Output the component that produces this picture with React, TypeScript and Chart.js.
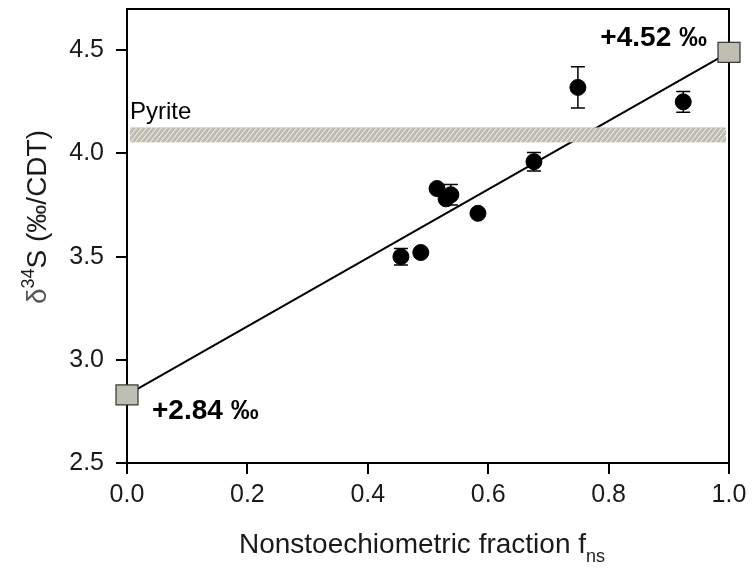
import React, { useEffect, useRef } from "react";
import { Chart, registerables } from "chart.js";

Chart.register(...registerables);

// Samples: nonstoechiometric fraction vs δ34S
const fraction = [0.455, 0.488, 0.515, 0.53, 0.538, 0.583, 0.676, 0.749, 0.924];
const delta34S = [3.5, 3.52, 3.83, 3.78, 3.8, 3.71, 3.96, 4.32, 4.25];
const delta34SErr = [0.04, 0.0, 0.0, 0.0, 0.05, 0.0, 0.045, 0.1, 0.05];

// End-members and mixing line
const endmemberX = [0, 1];
const endmemberY = [2.83, 4.49];
const endmemberLabels = ["+2.84 ‰", "+4.52 ‰"];

// Pyrite reference band
const pyriteBand = [4.054, 4.126];
const pyriteLabel = "Pyrite";

const xTicks = [0, 0.2, 0.4, 0.6, 0.8, 1.0];
const yTicks = [2.5, 3.0, 3.5, 4.0, 4.5];

const FONT = "'Liberation Sans', Arial, sans-serif";

const overlayPlugin = {
  id: "overlay",
  beforeDatasetsDraw(chart: any) {
    const { ctx } = chart;
    const x = chart.scales.x;
    const y = chart.scales.y;
    // error bars
    ctx.save();
    ctx.strokeStyle = "#000";
    ctx.lineWidth = 1.5;
    for (let i = 0; i < fraction.length; i++) {
      const e = delta34SErr[i];
      if (!e) continue;
      const px = x.getPixelForValue(fraction[i]);
      const y1 = y.getPixelForValue(delta34S[i] + e);
      const y2 = y.getPixelForValue(delta34S[i] - e);
      ctx.beginPath();
      ctx.moveTo(px, y1);
      ctx.lineTo(px, y2);
      ctx.moveTo(px - 7, y1);
      ctx.lineTo(px + 7, y1);
      ctx.moveTo(px - 7, y2);
      ctx.lineTo(px + 7, y2);
      ctx.stroke();
    }
    ctx.restore();
  },
  afterDatasetsDraw(chart: any) {
    const { ctx, chartArea } = chart;
    const y = chart.scales.y;
    const x = chart.scales.x;
    // pyrite band
    const top = y.getPixelForValue(pyriteBand[1]);
    const bot = y.getPixelForValue(pyriteBand[0]);
    const left = chartArea.left + 3;
    const right = chartArea.right - 3;
    ctx.save();
    ctx.fillStyle = "#bebdb2";
    ctx.fillRect(left, top, right - left, bot - top);
    ctx.beginPath();
    ctx.rect(left, top, right - left, bot - top);
    ctx.clip();
    ctx.strokeStyle = "rgba(255,255,255,0.85)";
    ctx.lineWidth = 1;
    const h = bot - top;
    for (let sx = left - h; sx < right + h; sx += 5) {
      ctx.beginPath();
      ctx.moveTo(sx, bot);
      ctx.lineTo(sx + h * 0.8, top);
      ctx.stroke();
    }
    ctx.restore();

    // frame top and right
    ctx.save();
    ctx.strokeStyle = "#000";
    ctx.lineWidth = 2;
    ctx.beginPath();
    ctx.moveTo(chartArea.left, chartArea.top);
    ctx.lineTo(chartArea.right, chartArea.top);
    ctx.lineTo(chartArea.right, chartArea.bottom);
    ctx.stroke();
    ctx.restore();

    // end-member squares
    ctx.save();
    for (let i = 0; i < endmemberX.length; i++) {
      const px = x.getPixelForValue(endmemberX[i]);
      const py = y.getPixelForValue(endmemberY[i]);
      ctx.fillStyle = "#bfbeb2";
      ctx.strokeStyle = "#333";
      ctx.lineWidth = 1.2;
      ctx.fillRect(px - 11, py - 10, 22, 20);
      ctx.strokeRect(px - 11, py - 10, 22, 20);
    }
    ctx.restore();

    // labels
    ctx.save();
    ctx.fillStyle = "#000";
    ctx.font = `bold 28px ${FONT}`;
    ctx.textBaseline = "alphabetic";
    ctx.textAlign = "left";
    const p0x = x.getPixelForValue(endmemberX[0]);
    const p0y = y.getPixelForValue(endmemberY[0]);
    ctx.fillText(endmemberLabels[0], p0x + 25, p0y + 24);
    const p1x = x.getPixelForValue(endmemberX[1]);
    const p1y = y.getPixelForValue(endmemberY[1]);
    ctx.textAlign = "right";
    ctx.fillText(endmemberLabels[1], p1x - 22, p1y - 6);
    ctx.font = `24px ${FONT}`;
    ctx.textAlign = "left";
    ctx.fillText(pyriteLabel, chartArea.left + 3, top - 8);
    ctx.restore();

    // axis titles
    ctx.save();
    ctx.fillStyle = "#1a1a1a";
    ctx.textBaseline = "alphabetic";
    const mainX = "Nonstoechiometric fraction f";
    const sub = "ns";
    ctx.font = `28px ${FONT}`;
    const w1 = ctx.measureText(mainX).width;
    ctx.font = `18px ${FONT}`;
    const w2 = ctx.measureText(sub).width;
    const cx = (chartArea.left + chartArea.right) / 2 - 6;
    const startX = cx - (w1 + w2) / 2;
    ctx.font = `28px ${FONT}`;
    ctx.fillText(mainX, startX, 553);
    ctx.font = `18px ${FONT}`;
    ctx.fillText(sub, startX + w1, 562);

    // y title rotated
    ctx.translate(46, 217);
    ctx.rotate(-Math.PI / 2);
    const parts = [
      { t: "δ", s: 28, dy: 0, c: "#555" },
      { t: "34", s: 18, dy: -12, c: "#1a1a1a" },
      { t: "S (‰/CDT)", s: 28, dy: 0, c: "#1a1a1a" },
    ];
    let total = 0;
    for (const p of parts) {
      ctx.font = `${p.s}px ${FONT}`;
      total += ctx.measureText(p.t).width;
    }
    let ox = -total / 2;
    for (const p of parts) {
      ctx.font = `${p.s}px ${FONT}`;
      ctx.fillStyle = p.c;
      ctx.fillText(p.t, ox, p.dy);
      ox += ctx.measureText(p.t).width;
    }
    ctx.restore();
  },
};

export default function App() {
  const ref = useRef<HTMLCanvasElement | null>(null);
  useEffect(() => {
    if (!ref.current) return;
    const chart = new Chart(ref.current, {
      type: "scatter",
      data: {
        datasets: [
          {
            label: "Mixing line",
            type: "line",
            data: endmemberX.map((v, i) => ({ x: v, y: endmemberY[i] })),
            borderColor: "#000",
            borderWidth: 2,
            pointRadius: 0,
            showLine: true,
            fill: false,
            clip: false as any,
            order: 2,
          },
          {
            label: "Samples",
            data: fraction.map((v, i) => ({ x: v, y: delta34S[i] })),
            backgroundColor: "#000",
            borderColor: "#000",
            pointRadius: 8,
            pointHoverRadius: 8,
            order: 1,
          },
        ],
      },
      options: {
        animation: false,
        responsive: false,
        maintainAspectRatio: false,
        layout: { padding: { top: 7, right: 25, left: 0, bottom: 0 } },
        plugins: {
          legend: { display: false },
          tooltip: { enabled: false },
          title: { display: false },
        },
        scales: {
          x: {
            type: "linear",
            min: 0,
            max: 1,
            afterBuildTicks: (s: any) => {
              s.ticks = xTicks.map((v) => ({ value: v }));
            },
            afterFit: (s: any) => {
              s.height = 111;
              s.paddingLeft = 0;
              s.paddingRight = 0;
            },
            ticks: {
              callback: (v: any) => Number(v).toFixed(1),
              font: { family: FONT, size: 25 },
              color: "#1a1a1a",
              padding: 6,
            },
            grid: {
              drawOnChartArea: false,
              drawTicks: true,
              tickLength: 11,
              color: "#000",
              lineWidth: 2,
            },
            border: { display: true, color: "#000", width: 2 },
          },
          y: {
            type: "linear",
            min: 2.5,
            max: 4.7,
            afterBuildTicks: (s: any) => {
              s.ticks = yTicks.map((v) => ({ value: v }));
            },
            afterFit: (s: any) => {
              s.width = 127;
              s.paddingTop = 0;
              s.paddingBottom = 0;
            },
            ticks: {
              callback: (v: any) => Number(v).toFixed(1),
              font: { family: FONT, size: 25 },
              color: "#1a1a1a",
              padding: 12,
            },
            grid: {
              drawOnChartArea: false,
              drawTicks: true,
              tickLength: 11,
              color: "#000",
              lineWidth: 2,
            },
            border: { display: true, color: "#000", width: 2 },
          },
        },
      },
      plugins: [overlayPlugin],
    });
    return () => chart.destroy();
  }, []);
  return (
    <div style={{ position: "absolute", left: 0, top: 0, width: 754, height: 574, background: "#fff" }}>
      <canvas ref={ref} width={754} height={574} style={{ width: 754, height: 574 }} />
    </div>
  );
}
